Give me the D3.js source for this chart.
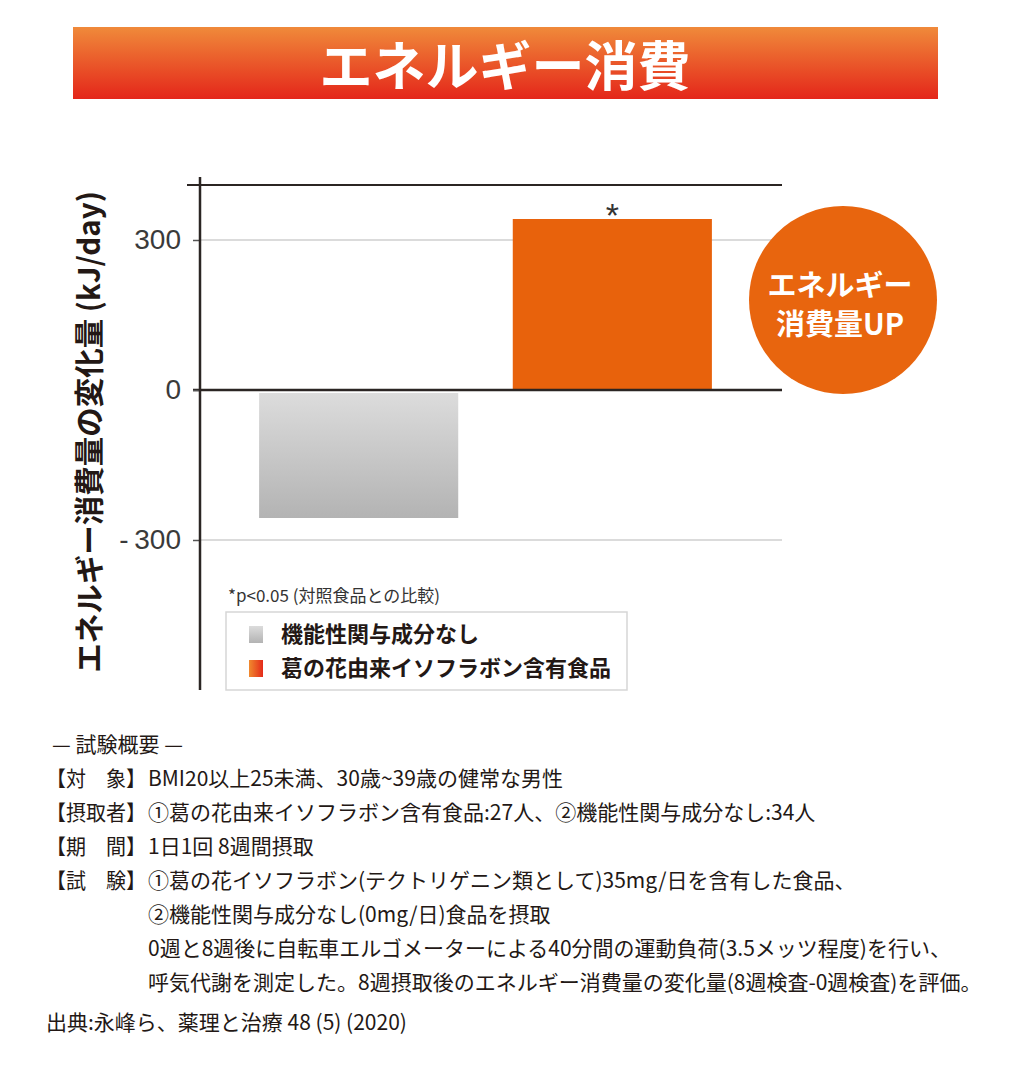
<!DOCTYPE html>
<html>
<head>
<meta charset="utf-8">
<script src="https://cdn.jsdelivr.net/npm/d3@7"></script>
<style>
  body { margin: 0; background: #fff; }
  svg { display: block; }
</style>
</head>
<body>
<div id="chart"></div>
<script>
// Données
const categories = ["機能性関与成分なし", "葛の花由来イソフラボン含有食品"];
const values = [-256, 342];
const yTicks = [-300, 0, 300];
const yLabel = "エネルギー消費量の変化量 (kJ/day)";
const title = "エネルギー消費";
const badgeLines = ["エネルギー", "消費量UP"];
const pNote = "*p<0.05 (対照食品との比較)";
const notes = [
  ["", "— 試験概要 —"],
  ["【対　象】", "BMI20以上25未満、30歳~39歳の健常な男性"],
  ["【摂取者】", "①葛の花由来イソフラボン含有食品:27人、②機能性関与成分なし:34人"],
  ["【期　間】", "1日1回 8週間摂取"],
  ["【試　験】", "①葛の花イソフラボン(テクトリゲニン類として)35mg/日を含有した食品、"],
  ["", "②機能性関与成分なし(0mg/日)食品を摂取"],
  ["", "0週と8週後に自転車エルゴメーターによる40分間の運動負荷(3.5メッツ程度)を行い、"],
  ["", "呼気代謝を測定した。8週摂取後のエネルギー消費量の変化量(8週検査-0週検査)を評価。"],
  ["", "出典:永峰ら、薬理と治療 48 (5) (2020)"]
];

const W = 1012, H = 1080;
const jp = "'Noto Sans CJK JP', 'Noto Sans', sans-serif";
const num = "'Liberation Sans', Arial, sans-serif";

const svg = d3.select("#chart").append("svg")
    .attr("width", W)
    .attr("height", H);

const defs = svg.append("defs");

// Dégradés
const gBanner = defs.append("linearGradient").attr("id", "banner")
    .attr("x1", 0).attr("y1", 0).attr("x2", 0).attr("y2", 1);
gBanner.append("stop").attr("offset", "0%").attr("stop-color", "#f08a3a");
gBanner.append("stop").attr("offset", "100%").attr("stop-color", "#e4261a");

const gGray = defs.append("linearGradient").attr("id", "gray")
    .attr("x1", 0).attr("y1", 0).attr("x2", 0).attr("y2", 1);
gGray.append("stop").attr("offset", "0%").attr("stop-color", "#dcdcdc");
gGray.append("stop").attr("offset", "100%").attr("stop-color", "#b3b3b3");

const gSwOrange = defs.append("linearGradient").attr("id", "sworange")
    .attr("x1", 0).attr("y1", 0).attr("x2", 1).attr("y2", 0);
gSwOrange.append("stop").attr("offset", "0%").attr("stop-color", "#f08a2e");
gSwOrange.append("stop").attr("offset", "100%").attr("stop-color", "#e42a1a");

// Bandeau du titre
svg.append("rect")
    .attr("x", 73).attr("y", 27)
    .attr("width", 865).attr("height", 72)
    .attr("fill", "url(#banner)");

svg.append("text")
    .attr("x", 505).attr("y", 86)
    .attr("text-anchor", "middle")
    .attr("font-family", jp)
    .attr("font-weight", "bold")
    .attr("font-size", 53)
    .attr("fill", "#fff")
    .text(title);

// Échelles
const y = d3.scaleLinear().domain([-600, 410]).range([690, 185]);
const x = d3.scaleBand().domain(categories).range([200, 771])
    .paddingInner(0.215).paddingOuter(0.233);

const xLeft = 200, xRight = 782;

// Grille
svg.selectAll(".grid")
    .data(yTicks.filter(d => d !== 0))
  .enter().append("line")
    .attr("class", "grid")
    .attr("x1", xLeft).attr("x2", xRight)
    .attr("y1", d => y(d)).attr("y2", d => y(d))
    .attr("stroke", "#cfcfcf").attr("stroke-width", 1.5);

// Barres
svg.selectAll(".bar")
    .data(values)
  .enter().append("rect")
    .attr("class", "bar")
    .attr("x", (d, i) => x(categories[i]))
    .attr("width", x.bandwidth())
    .attr("y", d => d >= 0 ? y(d) : y(0) + 3)
    .attr("height", d => d >= 0 ? y(0) - y(d) : y(d) - y(0) - 3)
    .attr("fill", (d, i) => i === 0 ? "url(#gray)" : "#e8620c");

// Astérisque
svg.append("text")
    .attr("x", x(categories[1]) + x.bandwidth() / 2)
    .attr("y", y(values[1]) + 8)
    .attr("text-anchor", "middle")
    .attr("font-family", num)
    .attr("font-size", 34)
    .attr("fill", "#333")
    .text("*");

// Lignes du cadre
svg.append("line")
    .attr("x1", 187).attr("x2", xRight)
    .attr("y1", y(410)).attr("y2", y(410))
    .attr("stroke", "#2b2523").attr("stroke-width", 2);

svg.append("line")
    .attr("x1", 193).attr("x2", xRight)
    .attr("y1", y(0)).attr("y2", y(0))
    .attr("stroke", "#2b2523").attr("stroke-width", 2.5);

// Axe Y
const yAxis = d3.axisLeft(y)
    .tickValues(yTicks)
    .tickSize(7)
    .tickPadding(12)
    .tickSizeOuter(0)
    .tickFormat(d => d < 0 ? "-\u2009" + Math.abs(d) : d);

const gy = svg.append("g")
    .attr("transform", "translate(" + xLeft + ",0)")
    .call(yAxis);
gy.select(".domain").remove();
gy.selectAll(".tick line").attr("stroke", "#555").attr("stroke-width", 1.5);
gy.selectAll(".tick text")
    .attr("font-family", num)
    .attr("font-size", 28)
    .attr("fill", "#3a3a3a");

svg.append("line")
    .attr("x1", xLeft).attr("x2", xLeft)
    .attr("y1", y(426)).attr("y2", y(-600))
    .attr("stroke", "#2b2523").attr("stroke-width", 2.5);

// Titre de l'axe Y
svg.append("text")
    .attr("transform", "translate(100," + 432 + ") rotate(-90)")
    .attr("text-anchor", "middle")
    .attr("font-family", jp)
    .attr("font-weight", "bold")
    .attr("font-size", 29.5)
    .attr("fill", "#231815")
    .text(yLabel);

// Pastille
svg.append("circle")
    .attr("cx", 843).attr("cy", 300).attr("r", 94)
    .attr("fill", "#e8650e");

svg.selectAll(".badge")
    .data(badgeLines)
  .enter().append("text")
    .attr("class", "badge")
    .attr("x", 840)
    .attr("y", (d, i) => 296 + i * 39)
    .attr("text-anchor", "middle")
    .attr("font-family", jp)
    .attr("font-weight", "bold")
    .attr("font-size", 29)
    .attr("fill", "#fff")
    .text(d => d);

// Légende
svg.append("text")
    .attr("x", 228).attr("y", 602)
    .attr("font-family", jp)
    .attr("font-size", 17)
    .attr("fill", "#333")
    .text(pNote);

svg.append("rect")
    .attr("x", 226).attr("y", 612)
    .attr("width", 401).attr("height", 78)
    .attr("fill", "#fff")
    .attr("stroke", "#d6d6d6").attr("stroke-width", 1.5);

const legend = svg.selectAll(".legend")
    .data(categories)
  .enter().append("g")
    .attr("class", "legend")
    .attr("transform", (d, i) => "translate(249," + (626 + i * 34) + ")");

legend.append("rect")
    .attr("width", 14).attr("height", 17)
    .attr("fill", (d, i) => i === 0 ? "url(#gray)" : "url(#sworange)");

legend.append("text")
    .attr("x", 32).attr("y", 16)
    .attr("font-family", jp)
    .attr("font-weight", "bold")
    .attr("font-size", 22)
    .attr("fill", "#231815")
    .text(d => d);

// Texte du bas
const noteY = [752, 786, 820, 854, 888, 922, 956, 990, 1030];
notes.forEach(function(n, i) {
    const isTitle = i === 0;
    const isSource = i === notes.length - 1;
    if (n[0]) {
        svg.append("text")
            .attr("x", 46).attr("y", noteY[i])
            .attr("font-family", jp)
            .attr("font-size", 21)
            .attr("fill", "#231815")
            .attr("textLength", 100)
            .attr("lengthAdjust", "spacingAndGlyphs")
            .text(n[0]);
    }
    svg.append("text")
        .attr("x", isTitle ? 52 : (isSource ? 46 : 148))
        .attr("y", noteY[i])
        .attr("font-family", jp)
        .attr("font-size", 21)
        .attr("fill", "#231815")
        .text(n[1]);
});
</script>
</body>
</html>
